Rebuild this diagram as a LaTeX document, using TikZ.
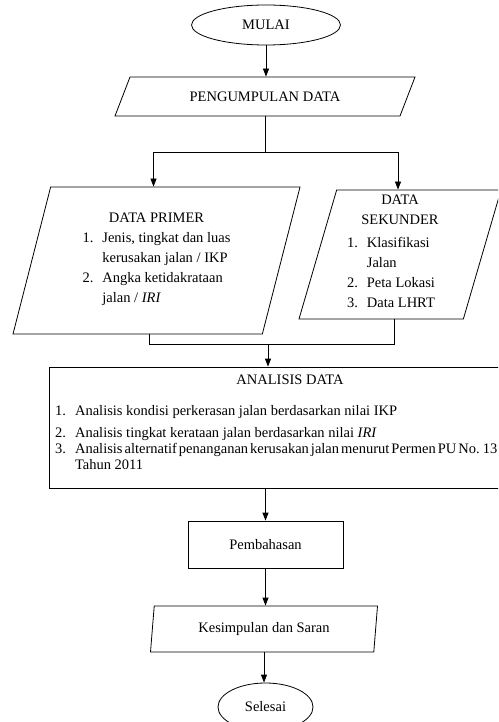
\documentclass[tikz,border=0pt]{standalone}
\usepackage{fontspec}
\setmainfont{Liberation Serif}
\usetikzlibrary{arrows.meta,calc,shapes.geometric}
\tikzset{flow/.style={-{Triangle[length=8pt,width=6pt]},line width=.8pt},
         garis/.style={line width=.8pt},
         terminal/.style={draw,ellipse,line width=.8pt,inner sep=0pt},
         proses/.style={draw,rectangle,line width=.8pt,inner sep=0pt},
         io/.style={draw,trapezium,trapezium left angle=#1,
           trapezium right angle=180-#1,trapezium stretches body,
           line width=.8pt,inner sep=0pt,align=center}}

\begin{document}
\begin{tikzpicture}[x=1pt,y=-1pt,font=\fontsize{14.5}{20}\selectfont]
  \useasboundingbox (0,0) rectangle (498,722);
  \clip (0,0) rectangle (498,722);
  \node[terminal,minimum width=149pt,minimum height=40pt] (mulai) at (266,25)
    {MULAI};
  \node[io=33,minimum width=300pt,minimum height=39pt] (kumpul) at (265,96.5)
    {PENGUMPULAN DATA};
  \node[io=68.5,minimum width=287pt,minimum height=147pt] (primer)
    at (156.5,260.5) {DATA PRIMER\\[5pt]
    \begin{tabular}{@{}l@{\hspace{9pt}}l@{}}
      1. & Jenis, tingkat dan luas\\
         & kerusakan jalan / IKP\\
      2. & Angka ketidakrataan\\
         & jalan / \textit{IRI}
    \end{tabular}};
  \node[io=72.4,minimum width=202pt,minimum height=129pt] (sekunder)
    at (400,254.5) {DATA\\SEKUNDER\\[8pt]
    \begin{tabular}{@{}l@{\hspace{9pt}}l@{}}
      1. & Klasifikasi\\
         & Jalan\\
      2. & Peta Lokasi\\
      3. & Data LHRT
    \end{tabular}\hspace*{18pt}};
  \node[proses,minimum width=481pt,minimum height=121pt] (analisis)
    at (289.5,427.5) {};
  \node (judul) at (290,380) {ANALISIS DATA};
  \node[anchor=base west,inner sep=0pt,font=\fontsize{14.5}{16}\selectfont]
    (poin) at (55,415) {\begin{tabular}[t]{@{}l@{\hspace{9pt}}l@{}}
      1. & Analisis kondisi perkerasan jalan berdasarkan nilai IKP\\[6pt]
      2. & Analisis tingkat kerataan jalan berdasarkan nilai \textit{IRI}\\
      3. & \spaceskip=2pt Analisis alternatif penanganan kerusakan jalan
           menurut Permen PU No. 13\\
         & Tahun 2011
    \end{tabular}};
  \node[proses,minimum width=155pt,minimum height=47pt] (bahas)
    at (265.5,544.5) {Pembahasan};
  \node[io=74.2,minimum width=227pt,minimum height=46pt] (simpul)
    at (264,629) {Kesimpulan dan Saran};
  \node[terminal,minimum width=95pt,minimum height=48pt] (selesai)
    at (265.5,707) {Selesai};
  % percabangan data
  \coordinate (cabang) at (266,152);
  \coordinate (gabung) at (268,344);
  \draw[flow] (mulai.south) -- (mulai.south |- kumpul.north);
  \draw[garis] (kumpul.south) -- (kumpul.south |- cabang);
  \draw[flow] (cabang) -| ([xshift=-3pt]primer.north);
  \draw[flow] (cabang) -| ([xshift=-2pt]sekunder.north);
  \draw[garis] ([xshift=-7.5pt]primer.south) -- ++(0,10)
    -| ([xshift=-6pt]sekunder.south);
  \draw[flow] (gabung) -- (gabung |- analisis.north);
  \draw[flow] (analisis.south -| bahas.north) -- (bahas.north);
  \draw[flow] (bahas.south) -- (bahas.south |- simpul.north);
  \draw[flow] (simpul.south) -- (simpul.south |- selesai.north);
\end{tikzpicture}
\end{document}
